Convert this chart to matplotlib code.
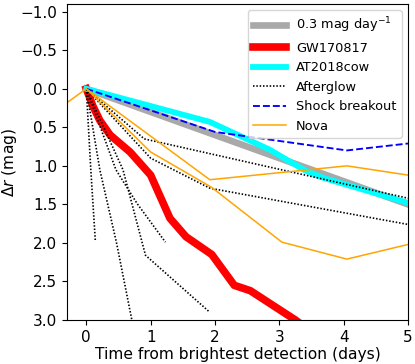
import matplotlib
matplotlib.use("Agg")
import matplotlib.pyplot as plt

# 0.3 mag/day reference
ref_t = [0.0, 5.5]
ref_m = [0.0, 1.65]

# GW170817
gw_t = [0.0, 0.10, 0.21, 0.37, 0.68, 1.0, 1.30, 1.55, 1.95, 2.30, 2.55, 3.25, 3.60]
gw_m = [0.0, 0.22, 0.41, 0.60, 0.82, 1.12, 1.68, 1.92, 2.15, 2.55, 2.62, 3.00, 3.22]

# AT2018cow
cow_t = [0.0, 1.92, 2.85, 3.40, 3.70, 5.0]
cow_m = [0.0, 0.43, 0.79, 1.06, 1.16, 1.48]

# Afterglows
ag1_t = [0.0, 0.07, 0.14]
ag1_m = [0.0, 1.05, 1.97]
ag2_t = [0.0, 0.21, 0.47, 0.72]
ag2_m = [0.0, 1.05, 2.00, 3.05]
ag3_t = [0.0, 0.46, 0.79, 1.23]
ag3_m = [0.0, 1.05, 1.49, 1.99]
ag4_t = [0.0, 0.57, 0.92, 1.92]
ag4_m = [0.0, 1.05, 2.16, 2.90]
ag5_t = [0.0, 0.90, 5.0]
ag5_m = [0.0, 0.65, 1.42]
ag6_t = [0.0, 1.00, 1.92, 5.0]
ag6_m = [0.0, 0.90, 1.29, 1.76]

# Shock breakout
sb_t = [0.0, 2.0, 4.05, 5.0]
sb_m = [0.0, 0.56, 0.80, 0.71]

# Novae
nova1_t = [-0.5, 0.0, 1.0, 1.95, 3.04, 4.05, 5.0]
nova1_m = [0.30, 0.0, 0.82, 1.28, 1.99, 2.21, 2.02]
nova2_t = [0.0, 1.92, 4.05, 5.0]
nova2_m = [0.0, 1.18, 1.00, 1.12]

x_ticks = [0, 1, 2, 3, 4, 5]
y_ticks = [-1.0, -0.5, 0.0, 0.5, 1.0, 1.5, 2.0, 2.5, 3.0]

fig = plt.figure(figsize=(4.15, 3.64), dpi=100)
ax = fig.add_axes([67/415, 1-320/364, (408-67)/415, (320-4)/364])

ax.plot(ref_t, ref_m, color='darkgray', lw=4.8, label='0.3 mag day$^{-1}$')
ax.plot(gw_t, gw_m, color='red', lw=5.5, label='GW170817')
ax.plot(cow_t, cow_m, color='cyan', lw=4.2, label='AT2018cow')
ag = [(ag1_t, ag1_m), (ag2_t, ag2_m), (ag3_t, ag3_m), (ag4_t, ag4_m), (ag5_t, ag5_m), (ag6_t, ag6_m)]
for i, (t, m) in enumerate(ag):
    ax.plot(t, m, color='black', ls=(0, (0.9, 1.1)), lw=1.2,
            label='Afterglow' if i == 0 else None)
ax.plot(sb_t, sb_m, color='blue', ls='--', lw=1.35, label='Shock breakout')
ax.plot(nova1_t, nova1_m, color='orange', lw=1.1, label='Nova')
ax.plot(nova2_t, nova2_m, color='orange', lw=1.1)

ax.set_xlim(-0.3, 5.0)
ax.set_ylim(3.0, -1.1)
ax.set_xticks(x_ticks)
ax.set_yticks(y_ticks)
ax.tick_params(labelsize=11)
ax.set_xlabel('Time from brightest detection (days)', fontsize=11.2, labelpad=2)
ax.set_ylabel(r'$\Delta r$ (mag)', fontsize=11.2)
ax.yaxis.set_label_coords(-0.142, 0.5)
ax.legend(loc='upper right', fontsize=9.3, handlelength=2.55)

fig.savefig('out.png', dpi=100)
